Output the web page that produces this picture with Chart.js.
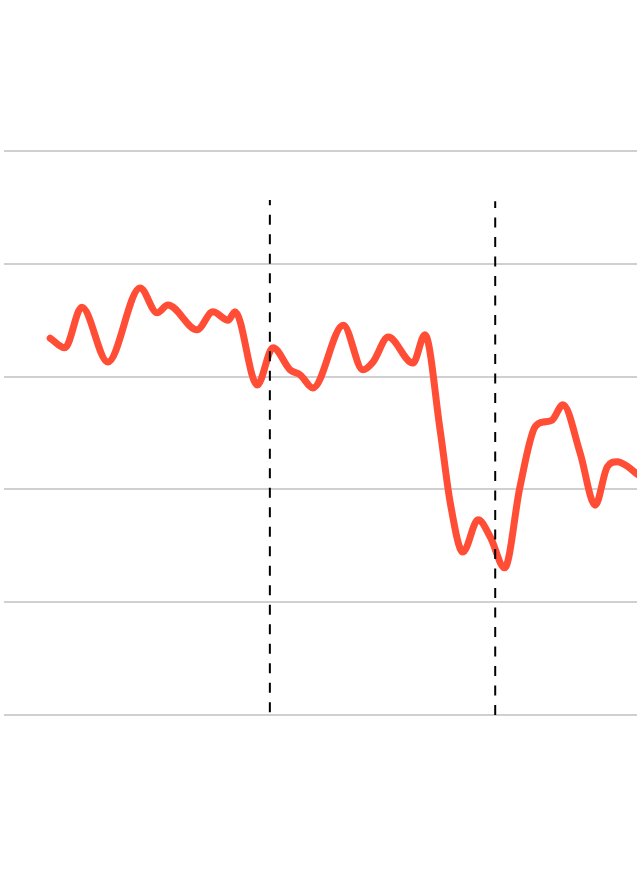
<!DOCTYPE html>
<html>
<head>
<meta charset="utf-8">
<script src="https://cdn.jsdelivr.net/npm/chart.js@4"></script>
<style>
  html, body { margin: 0; padding: 0; background: #fff; }
  canvas { display: block; }
</style>
</head>
<body>
<canvas id="chart" width="640" height="870"></canvas>
<script>
// serie (x: tempo 0-100, y: indice 0-100)
const serieX = [7.3, 9.6, 12.3, 16.4, 21.5, 24.2, 25.9, 30.5, 33.0, 35.4, 36.5,
  40.0, 42.5, 45.2, 46.8, 48.8, 53.6, 56.7, 58.3, 60.7, 64.6, 66.5,
  68.9, 70.5, 72.5, 74.9, 76.8, 79.1, 81.5, 83.9, 85.5, 86.6, 88.3,
  91.0, 93.4, 95.3, 96.9, 98.6, 100];
const serieY = [66.8, 65.1, 72.3, 62.6, 75.7, 71.3, 72.7, 68.3, 71.5, 70.0, 71.5,
  58.5, 65.1, 61.2, 60.3, 58.0, 69.1, 61.2, 62.6, 67.0, 62.4, 67.4,
  50.5, 37.6, 28.9, 34.6, 31.6, 26.1, 40.4, 51.1, 52.0, 52.3, 55.0,
  46.5, 37.2, 44.0, 44.9, 44.0, 42.7];

// linee tratteggiate verticali (eventi)
const eventiX = [42.0, 77.6];
const eventiAlto = [91.3, 91.1];
const eventiBasso = [0.5, 0];

const yTicks = [0, 20, 40, 60, 80, 100];

const datasets = [];
eventiX.forEach((x, i) => {
  datasets.push({
    data: [{ x: x, y: eventiBasso[i] }, { x: x, y: eventiAlto[i] }],
    borderColor: "#000",
    borderWidth: 2,
    borderDash: [10, 9.5],
    pointRadius: 0,
    tension: 0,
    order: 0
  });
});
datasets.push({
  data: serieX.map((x, i) => ({ x: x, y: serieY[i] })),
  borderColor: "rgb(255, 77, 54)",
  borderWidth: 7,
  pointRadius: 0,
  cubicInterpolationMode: "monotone",
  borderCapStyle: "round",
  borderJoinStyle: "round",
  order: 1
});

new Chart(document.getElementById("chart").getContext("2d"), {
  type: "line",
  data: { datasets: datasets },
  options: {
    responsive: false,
    animation: false,
    layout: { padding: { top: 151, bottom: 155, left: 4, right: 3 } },
    plugins: { legend: { display: false }, tooltip: { enabled: false } },
    scales: {
      x: { type: "linear", min: 0, max: 100, display: false },
      y: {
        min: 0, max: 100,
        afterBuildTicks: (ax) => { ax.ticks = yTicks.map(v => ({ value: v })); },
        ticks: { display: false },
        border: { display: false },
        grid: { color: "#d0d0d0", lineWidth: 2, drawTicks: false }
      }
    }
  }
});
</script>
</body>
</html>
